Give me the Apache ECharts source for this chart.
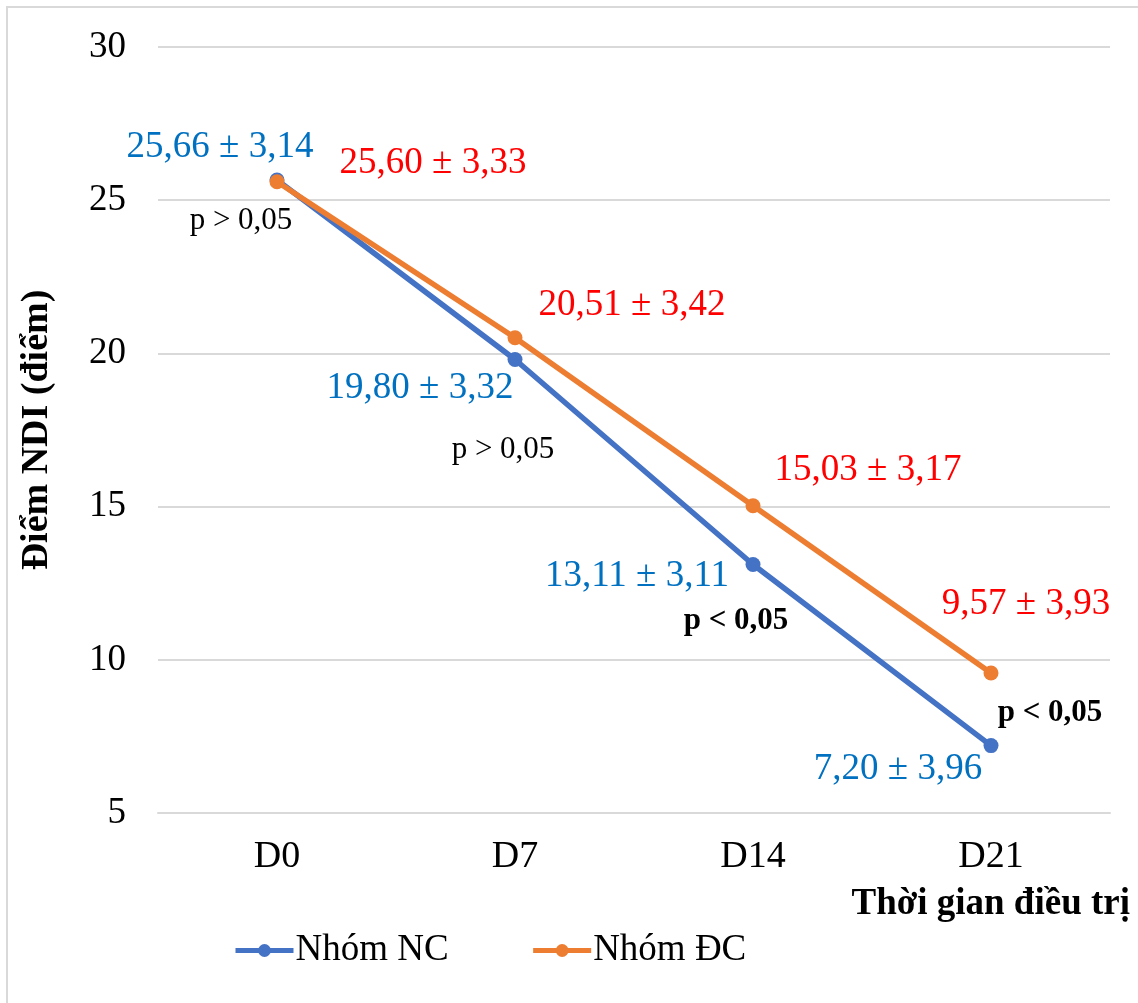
<!DOCTYPE html>
<html>
<head>
<meta charset="utf-8">
<script src="https://cdn.jsdelivr.net/npm/echarts@6/dist/echarts.min.js"></script>
<style>
  html, body { margin: 0; padding: 0; background: #fff; }
  #chart { width: 1138px; height: 1003px; }
</style>
</head>
<body>
<div id="chart"></div>
<script>
const days = ['D0', 'D7', 'D14', 'D21']
const ncMean = [25.66, 19.80, 13.11, 7.20]
const ncSd = [3.14, 3.32, 3.11, 3.96]
const dcMean = [25.60, 20.51, 15.03, 9.57]
const dcSd = [3.33, 3.42, 3.17, 3.93]
const pTexts = ['p > 0,05', 'p > 0,05', 'p < 0,05', 'p < 0,05']
const pBold = [false, false, true, true]

const FONT = '"Liberation Serif", "Times New Roman", serif'
const fmt = v => v.toFixed(2).replace('.', ',')

// label offsets (px) relative to each point
const ncOffsets = [[-57, -33], [-95, 29], [-116, 12], [-93, 24]]
const dcOffsets = [[156, -19], [117, -32], [115, -35], [35, -69]]
const pOffsets = [[-36, 41], [-12, 90], [-17, 56], [59, -33]]

const chart = echarts.init(document.getElementById('chart'))

function seriesData(means, sds, offsets) {
  return means.map((v, i) => ({
    value: v,
    label: { offset: offsets[i], formatter: fmt(v) + ' ± ' + fmt(sds[i]) }
  }))
}

const option = {
  backgroundColor: '#fff',
  animation: false,
  grid: { left: 158, right: 28, top: 47, bottom: 190 },
  legend: {
    left: 228,
    top: 927,
    itemWidth: 58,
    itemHeight: 16,
    itemGap: 82,
    lineStyle: { width: 5 },
    textStyle: { fontFamily: FONT, fontSize: 37, color: '#000', padding: [0, 0, 0, -3] },
    data: ['Nhóm NC', 'Nhóm ĐC']
  },
  xAxis: {
    type: 'category',
    data: days,
    axisLine: { lineStyle: { color: '#d9d9d9', width: 2 } },
    axisTick: { show: false },
    axisLabel: { fontFamily: FONT, fontSize: 38, color: '#000', margin: 25 },
    name: 'Thời gian điều trị',
    nameLocation: 'end',
    nameGap: 20,
    nameTextStyle: {
      fontFamily: FONT, fontSize: 37, fontWeight: 'bold', color: '#000',
      align: 'right', verticalAlign: 'top', padding: [73, 0, 0, 0]
    }
  },
  yAxis: {
    type: 'value',
    min: 5,
    max: 30,
    interval: 5,
    axisLine: { show: false },
    axisTick: { show: false },
    splitLine: { lineStyle: { color: '#d9d9d9', width: 2 } },
    axisLabel: { fontFamily: FONT, fontSize: 37, color: '#000', margin: 32 },
    name: 'Điểm NDI (điểm)',
    nameLocation: 'middle',
    nameGap: 102,
    nameTextStyle: { fontFamily: FONT, fontSize: 38, fontWeight: 'bold', color: '#000' }
  },
  series: [
    {
      name: 'Nhóm NC',
      type: 'line',
      data: seriesData(ncMean, ncSd, ncOffsets),
      symbol: 'circle',
      symbolSize: 15,
      lineStyle: { color: '#4472C4', width: 5.5 },
      itemStyle: { color: '#4472C4' },
      label: { show: true, position: 'inside', fontFamily: FONT, fontSize: 37, color: '#0070C0' },
      z: 3
    },
    {
      name: 'Nhóm ĐC',
      type: 'line',
      data: seriesData(dcMean, dcSd, dcOffsets),
      symbol: 'circle',
      symbolSize: 15,
      lineStyle: { color: '#ED7D31', width: 5.5 },
      itemStyle: { color: '#ED7D31' },
      label: { show: true, position: 'inside', fontFamily: FONT, fontSize: 37, color: '#FF0000' },
      z: 4
    }
  ]
}

chart.setOption(option)

// frame + p-value annotations placed relative to the NC points
const graphics = [{
  type: 'rect',
  shape: { x: 7, y: 7, width: 1150, height: 1010 },
  style: { fill: 'none', stroke: '#d9d9d9', lineWidth: 2 },
  silent: true
}]
days.forEach((d, i) => {
  const pt = chart.convertToPixel({ seriesIndex: 0 }, [i, ncMean[i]])
  graphics.push({
    type: 'text',
    x: pt[0] + pOffsets[i][0],
    y: pt[1] + pOffsets[i][1],
    style: {
      text: pTexts[i],
      fontFamily: FONT,
      fontSize: 31,
      fontWeight: pBold[i] ? 'bold' : 'normal',
      fill: '#000',
      align: 'center',
      verticalAlign: 'middle'
    }
  })
})
chart.setOption({ graphic: graphics })
</script>
</body>
</html>
